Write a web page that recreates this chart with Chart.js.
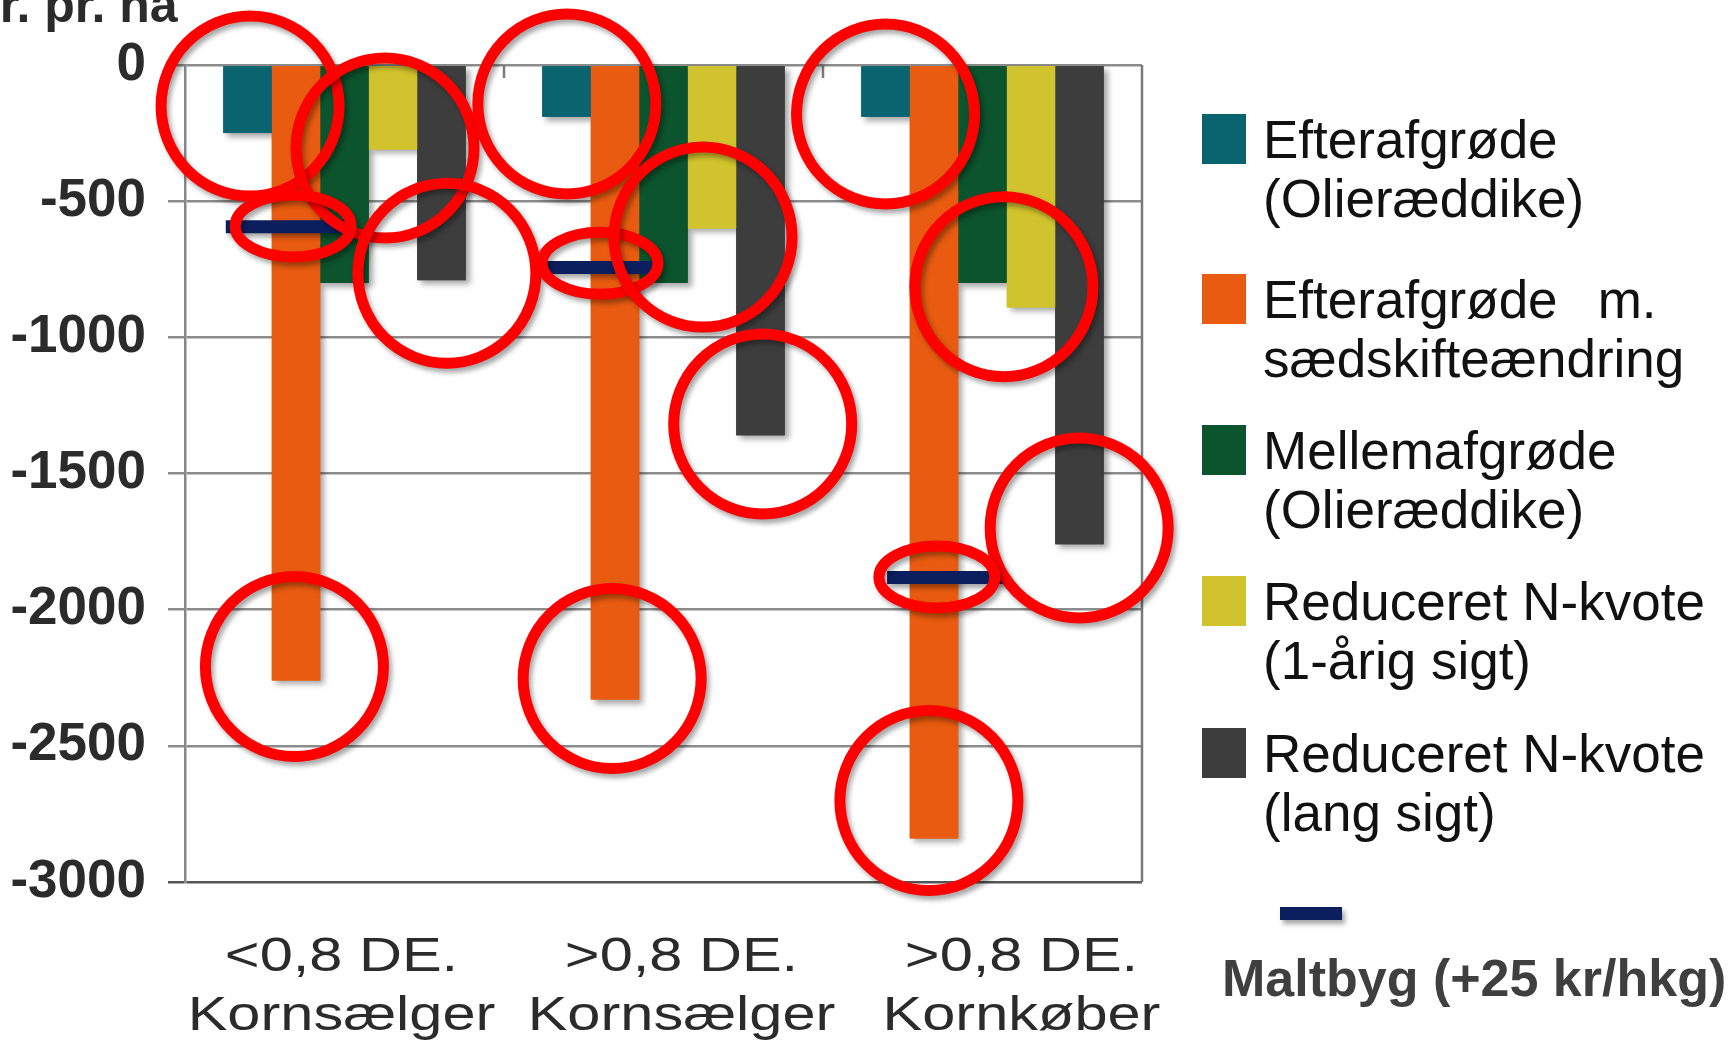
<!DOCTYPE html>
<html>
<head>
<meta charset="utf-8">
<script src="https://cdn.jsdelivr.net/npm/chart.js@4/dist/chart.umd.min.js"></script>
<style>
    body { margin: 0; background: #fff; overflow: hidden; }
    #wrap { position: relative; width: 1736px; height: 1041px; }
    #chart { position: absolute; left: 0; top: 0; }
    .legend-item { position: absolute; left: 1202px; }
    .legend-box { position: absolute; left: 0; top: 4px; width: 44px; height: 50px; }
    .legend-text {
        position: absolute; left: 61px; top: 0;
        font: 53px/59px "Liberation Sans", Arial, sans-serif;
        color: #111; white-space: pre;
    }
    #malt-line {
        position: absolute; left: 1280px; top: 907px; width: 62px; height: 13px;
        background: #0b1f5e; box-shadow: 3px 4px 5px rgba(0,0,0,0.35);
    }
    #malt-text {
        position: absolute; left: 1222px; top: 949px;
        font: bold 52px/59px "Liberation Sans", Arial, sans-serif;
        color: #3f3f3f; white-space: pre;
    }
</style>
</head>
<body>
<div id="wrap">
    <canvas id="chart" width="1736" height="1041"></canvas>
    <div id="legend"></div>
    <div id="malt-line"></div>
    <div id="malt-text">Maltbyg (+25 kr/hkg)</div>
</div>

<script>
// DATA
const categories = [
    ["<0,8 DE.", "Kornsælger"],
    [">0,8 DE.", "Kornsælger"],
    [">0,8 DE.", "Kornkøber"]
];

const seriesNames = [
    ["Efterafgrøde", "(Olieræddike)"],
    ["Efterafgrøde  \u2009m.", "sædskifteændring"],
    ["Mellemafgrøde", "(Olieræddike)"],
    ["Reduceret N-kvote", "(1-årig sigt)"],
    ["Reduceret N-kvote", "(lang sigt)"]
];

const efterafgrode = [-250, -190, -190];
const efterafgrodeSaedskifte = [-2260, -2330, -2840];
const mellemafgrode = [-800, -800, -800];
const nKvote1aar = [-310, -600, -890];
const nKvoteLang = [-790, -1360, -1760];

// Maltbyg markers (value, and x position in category units)
const maltbyg = [-594, -744, -1882];
const maltbygX = [-0.184, 0.777, 1.889];

// red highlight rings drawn on the chart (x in category units, y in kr)
const ringX = [-0.296, 0.127, -0.161, 0.321, -0.157, 0.697, 0.801, 1.124, 1.311, 0.839, 1.696, 2.067, 2.303, 1.857, 1.832];
const ringY = [-151, -305, -591, -765, -2209, -143, -728, -632, -1318, -2253, -180, -814, -1700, -1880, -2701];
const ringSmall = [false, false, true, false, false, false, true, false, false, false, false, false, false, true, false];

const seriesValues = [efterafgrode, efterafgrodeSaedskifte, mellemafgrode, nKvote1aar, nKvoteLang];
const seriesColors = ["#09646f", "#e85b10", "#0b542d", "#d1c32d", "#3d3d3d"];
const navy = "#0b1f5e";
const fontFamily = "'Liberation Sans', Arial, sans-serif";

// LEGEND (html)
const legendTops = [110, 270, 421, 572, 724];
const legend = document.getElementById("legend");
seriesNames.forEach((name, i) => {
    const item = document.createElement("div");
    item.className = "legend-item";
    item.style.top = legendTops[i] + "px";
    item.innerHTML = `<div class="legend-box" style="background:${seriesColors[i]}"></div>
        <div class="legend-text">${name[0]}\n${name[1]}</div>`;
    legend.appendChild(item);
});

// category units -> pixels
function catPixel(chart, u) {
    const xs = chart.scales.x;
    const p0 = xs.getPixelForValue(0);
    const p1 = xs.getPixelForValue(1);
    return p0 + u * (p1 - p0);
}

// FRAME + BAR SHADOWS
const barShadow = {
    id: "barShadow",
    beforeDatasetsDraw(chart) {
        const ctx = chart.ctx;
        const area = chart.chartArea;
        ctx.save();
        // right frame line and category tick marks at the top
        ctx.strokeStyle = "#7a7a7a";
        ctx.lineWidth = 2.5;
        ctx.beginPath();
        ctx.moveTo(area.right, area.top);
        ctx.lineTo(area.right, area.bottom);
        for (let i = 1; i < categories.length; i++) {
            const bx = catPixel(chart, i - 0.5);
            ctx.moveTo(bx, area.top);
            ctx.lineTo(bx, area.top + 13);
        }
        ctx.stroke();

        ctx.shadowColor = "rgba(0,0,0,0.35)";
        ctx.shadowBlur = 6;
        ctx.shadowOffsetX = 4;
        ctx.shadowOffsetY = 4;
        chart.data.datasets.forEach((ds, i) => {
            const meta = chart.getDatasetMeta(i);
            ctx.fillStyle = ds.backgroundColor;
            meta.data.forEach((bar) => {
                const p = bar.getProps(["x", "y", "base", "width"], true);
                ctx.fillRect(p.x - p.width / 2, Math.min(p.y, p.base), p.width, Math.abs(p.base - p.y));
            });
        });
        ctx.restore();
    }
};

// MALTBYG DASHES + RED RINGS
const overlays = {
    id: "overlays",
    afterDatasetsDraw(chart) {
        const ctx = chart.ctx;
        const ys = chart.scales.y;
        ctx.save();
        ctx.shadowColor = "rgba(0,0,0,0.35)";
        ctx.shadowBlur = 5;
        ctx.shadowOffsetX = 3;
        ctx.shadowOffsetY = 4;

        ctx.strokeStyle = navy;
        ctx.lineWidth = 13;
        maltbyg.forEach((v, i) => {
            const cx = catPixel(chart, maltbygX[i]);
            const cy = ys.getPixelForValue(v);
            ctx.beginPath();
            ctx.moveTo(cx - 60, cy);
            ctx.lineTo(cx + 60, cy);
            ctx.stroke();
        });

        ctx.strokeStyle = "#ff0000";
        ctx.lineWidth = 11;
        ringX.forEach((u, i) => {
            const cx = catPixel(chart, u);
            const cy = ys.getPixelForValue(ringY[i]);
            const rx = ringSmall[i] ? 58 : 89;
            const ry = ringSmall[i] ? 31 : 90;
            ctx.beginPath();
            ctx.ellipse(cx, cy, rx, ry, 0, 0, Math.PI * 2);
            ctx.stroke();
        });
        ctx.restore();
    }
};

// AXIS TEXTS
const axisTexts = {
    id: "axisTexts",
    afterDraw(chart) {
        const ctx = chart.ctx;
        const xs = chart.scales.x;
        const bottom = chart.chartArea.bottom;
        ctx.save();
        ctx.fillStyle = "#2b2b2b";
        ctx.font = "bold 50px " + fontFamily;
        ctx.textAlign = "left";
        ctx.fillText("kr. pr. ha", -28, 22);

        ctx.font = "48px " + fontFamily;
        ctx.textAlign = "center";
        categories.forEach((lines, i) => {
            const x = xs.getPixelForValue(i) + 18 + (i - 1) * 21;
            lines.forEach((line, j) => {
                ctx.save();
                ctx.translate(x, bottom + 89 + j * 59);
                ctx.scale(1.24, 1);
                ctx.fillText(line, 0, 0);
                ctx.restore();
            });
        });
        ctx.restore();
    }
};

const datasets = seriesValues.map((values, i) => ({
    label: seriesNames[i].join(" "),
    data: values,
    backgroundColor: seriesColors[i],
    borderWidth: 0
}));

new Chart(document.getElementById("chart"), {
    type: "bar",
    data: {
        labels: categories,
        datasets: datasets
    },
    options: {
        responsive: false,
        animation: false,
        categoryPercentage: 0.76,
        barPercentage: 1.0,
        layout: {
            padding: { left: 0, right: 594, top: 65, bottom: 159 }
        },
        plugins: {
            legend: { display: false },
            tooltip: { enabled: false }
        },
        scales: {
            x: {
                type: "category",
                grid: { display: false },
                border: { display: false },
                ticks: { display: false },
                afterFit(scale) { scale.height = 0; }
            },
            y: {
                min: -3000,
                max: 0,
                ticks: {
                    stepSize: 500,
                    color: "#2b2b2b",
                    padding: 22,
                    font: { family: fontFamily, size: 53, weight: "bold" },
                    callback: (value) => String(value)
                },
                grid: {
                    color: (c) => (c.tick && c.tick.value === -3000 ? "#555" : "#8c8c8c"),
                    lineWidth: 2.5,
                    tickLength: 17
                },
                border: { color: "#888", width: 2.5 },
                afterFit(scale) { scale.width = 185; }
            }
        }
    },
    plugins: [barShadow, overlays, axisTexts]
});
</script>
</body>
</html>
